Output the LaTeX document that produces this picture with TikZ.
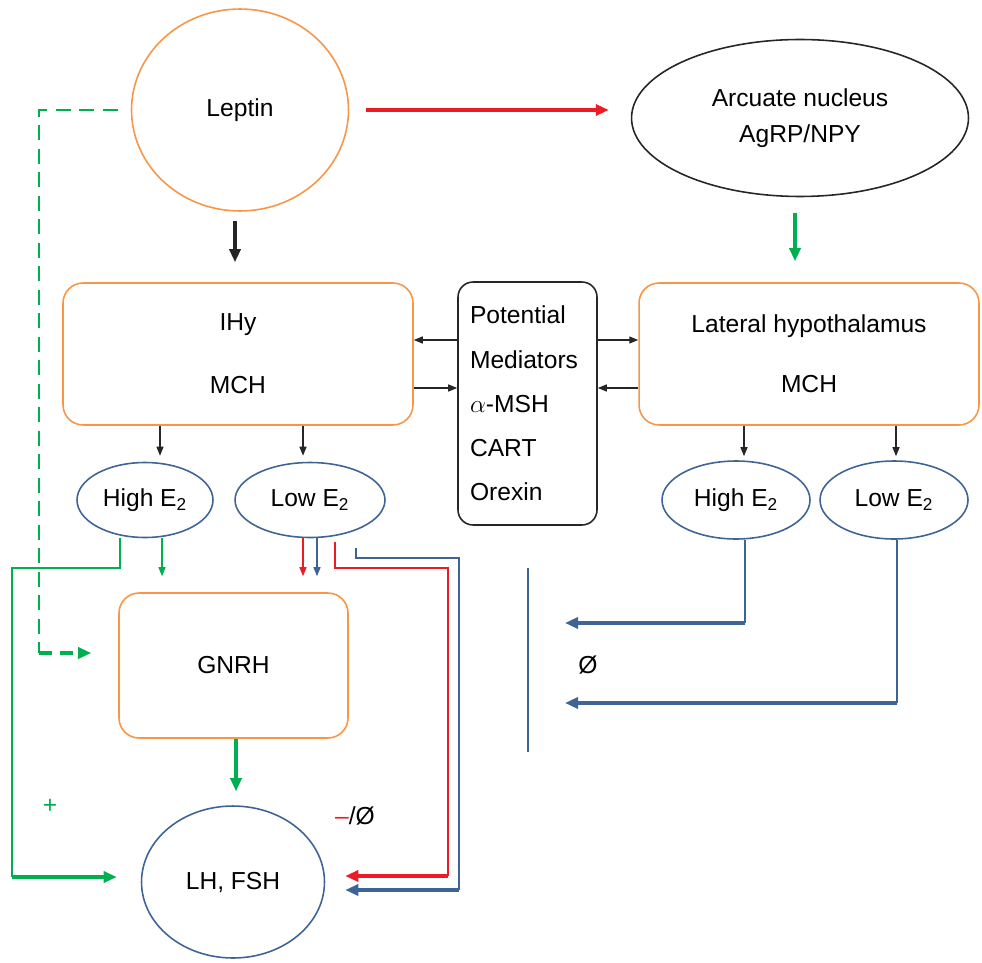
\documentclass[tikz,border=0pt]{standalone}
\usepackage{fontspec}
\setmainfont{Liberation Sans}
\usetikzlibrary{shapes.geometric,arrows.meta,positioning}
\definecolor{hyorange}{RGB}{247,150,70}
\definecolor{hyblue}{RGB}{62,100,150}
\definecolor{hygreen}{RGB}{0,176,80}
\definecolor{hyred}{RGB}{237,28,36}
\begin{document}
\begin{tikzpicture}[
  x=0.02cm, y=-0.02cm,
  font=\fontsize{14}{17}\selectfont,
  orangebox/.style={rectangle, rounded corners=0.4cm, draw=hyorange, line width=0.9pt, align=center},
  blueoval/.style={ellipse, draw=hyblue, line width=0.9pt, inner sep=0pt},
  thinarr/.style={-{Triangle[length=0.18cm,width=0.14cm]}, line width=0.8pt},
  thickarr/.style={-{Triangle[length=0.26cm,width=0.22cm]}, line width=1.9pt},
  thinline/.style={line width=1pt}
]
\useasboundingbox (0,0) rectangle (982,962);

\node[ellipse, draw=hyorange, line width=0.9pt, minimum width=4.34cm, minimum height=4.04cm, inner sep=0pt] (leptin) at (240,110) {Leptin};
\node[ellipse, draw=black!85, line width=0.9pt, minimum width=6.74cm, minimum height=3.14cm, align=center, font=\fontsize{14}{20.4}\selectfont] (arcuate) at (800,118) {Arcuate nucleus\\AgRP/NPY};

\node[orangebox, minimum width=7cm, minimum height=2.84cm, font=\fontsize{14}{35.7}\selectfont] (ihy) at (238,354) {IHy\\MCH};
\node[rectangle, rounded corners=0.3cm, draw=black!85, line width=0.9pt, minimum width=2.78cm, minimum height=4.86cm, align=left, text width=2.3cm, font=\fontsize{14}{25.2}\selectfont] (med) at (527.5,403.5) {Potential\\Mediators\\$\alpha$-MSH\\CART\\Orexin};
\node[orangebox, minimum width=6.8cm, minimum height=2.84cm, font=\fontsize{14}{34}\selectfont] (lathy) at (809,354) {Lateral hypothalamus\\MCH};

\node[blueoval, minimum width=2.72cm, minimum height=1.5cm] (hiL) at (145,500) {High E\textsubscript{2}};
\node[blueoval, minimum width=3cm, minimum height=1.5cm] (loL) at (310,500) {Low E\textsubscript{2}};
\node[blueoval, minimum width=2.96cm, minimum height=1.56cm] (hiR) at (736,500) {High E\textsubscript{2}};
\node[blueoval, minimum width=2.96cm, minimum height=1.56cm] (loR) at (894,500) {Low E\textsubscript{2}};

\node[orangebox, minimum width=4.58cm, minimum height=2.9cm] (gnrh) at (233.5,665.5) {GNRH};
\node[blueoval, minimum width=3.66cm, minimum height=3.04cm] (lhfsh) at (233,882) {LH, FSH};

\node[text=hygreen] (plus) at (50,806) {+};
\node (negnull) at (355,816) {\textcolor{hyred}{–}/Ø};
\node (null) at (588,665) {Ø};

% leptin pathways
\draw[thickarr, hyred, shorten <=0.34cm, shorten >=0.44cm] (leptin.east) -- (leptin.east -| arcuate.west);
\draw[thickarr, black!85, shorten <=0.18cm, shorten >=0.4cm] ([xshift=-0.1cm]leptin.south) -- ([xshift=-0.1cm]leptin.south |- ihy.north);
\draw[thickarr, hygreen, shorten <=0.32cm, shorten >=0.42cm] ([xshift=-0.1cm]arcuate.south) -- ([xshift=-0.1cm]arcuate.south |- lathy.north);

% mediators
\coordinate (upper) at ([yshift=0.28cm]ihy.east);
\coordinate (lower) at ([yshift=-0.68cm]ihy.east);
\draw[thinarr, black!85] (upper -| med.west) -- (upper);
\draw[thinarr, black!85] (lower) -- (lower -| med.west);
\draw[thinarr, black!85] (upper -| med.east) -- (upper -| lathy.west);
\draw[thinarr, black!85] (lower -| lathy.west) -- (lower -| med.east);

% MCH to estradiol
\coordinate (t1) at ([xshift=0.3cm,yshift=0.12cm]hiL.north);
\coordinate (t2) at ([xshift=-0.14cm,yshift=0.12cm]loL.north);
\coordinate (t3) at ([xshift=0.16cm,yshift=0.08cm]hiR.north);
\coordinate (t4) at ([xshift=0.04cm,yshift=0.08cm]loR.north);
\draw[thinarr, black!85] (t1 |- ihy.south) -- (t1);
\draw[thinarr, black!85] (t2 |- ihy.south) -- (t2);
\draw[thinarr, black!85] (t3 |- lathy.south) -- (t3);
\draw[thinarr, black!85] (t4 |- lathy.south) -- (t4);

% high E2, left
\coordinate (gleft) at (12,568);
\coordinate (gend) at ([xshift=-0.48cm,yshift=0.1cm]lhfsh.west);
\draw[thinline, hygreen] ([xshift=-0.5cm]hiL.south) |- (gleft) -- (gleft |- gend);
\draw[thickarr, hygreen, line width=1.8pt] (gleft |- gend) -- (gend);
\draw[thinarr, hygreen, shorten >=0.32cm] ([xshift=0.34cm]hiL.south) -- ([xshift=0.34cm]hiL.south |- gnrh.north);

% low E2, left
\draw[thinarr, hyred, shorten >=0.32cm] ([xshift=-0.14cm]loL.south) -- ([xshift=-0.14cm]loL.south |- gnrh.north);
\draw[thinarr, hyblue, shorten >=0.32cm] ([xshift=0.14cm]loL.south) -- ([xshift=0.14cm]loL.south |- gnrh.north);
\coordinate (rcorner) at (448,568);
\coordinate (rend) at ([xshift=0.4cm,yshift=0.12cm]lhfsh.east);
\draw[thinline, hyred] ([xshift=0.5cm,yshift=-0.08cm]loL.south) |- (rcorner) -- (rcorner |- rend);
\draw[thickarr, hyred, line width=1.8pt] (rcorner |- rend) -- (rend);
\coordinate (bcorner) at (459,558);
\coordinate (bend) at ([xshift=0.4cm,yshift=-0.16cm]lhfsh.east);
\draw[thinline, hyblue] ([xshift=0.92cm,yshift=-0.2cm]loL.south) |- (bcorner) -- (bcorner |- bend);
\draw[thickarr, hyblue, line width=1.8pt] (bcorner |- bend) -- (bend);

% GNRH and leptin to gonadotropins
\draw[thickarr, hygreen, shorten >=0.28cm] ([xshift=0.05cm]gnrh.south) -- ([xshift=0.05cm]gnrh.south |- lhfsh.north);
\coordinate (dleft) at (39,653);
\draw[thinline, hygreen, line width=1.2pt, dash pattern=on 0.3cm off 0.17cm] ([xshift=-0.26cm]leptin.west) -| (dleft);
\draw[thickarr, hygreen, line width=1.8pt, dash pattern=on 0.26cm off 0.16cm] (dleft) -- ([xshift=-0.54cm]dleft -| gnrh.west);

% estradiol, right
\coordinate (barTop) at (528,568);
\coordinate (barBot) at (528,752);
\draw[hyblue, line width=0.9pt] (barTop) -- (barBot);
\coordinate (hiEnd) at (565,623);
\coordinate (loEnd) at (565,703);
\draw[thinline, hyblue] ([xshift=0.18cm]hiR.south) -- ([xshift=0.18cm]hiR.south |- hiEnd);
\draw[thickarr, hyblue] ([xshift=0.18cm]hiR.south |- hiEnd) -- (hiEnd);
\draw[thinline, hyblue] ([xshift=0.06cm]loR.south) -- ([xshift=0.06cm]loR.south |- loEnd);
\draw[thickarr, hyblue] ([xshift=0.06cm]loR.south |- loEnd) -- (loEnd);
\end{tikzpicture}
\end{document}
